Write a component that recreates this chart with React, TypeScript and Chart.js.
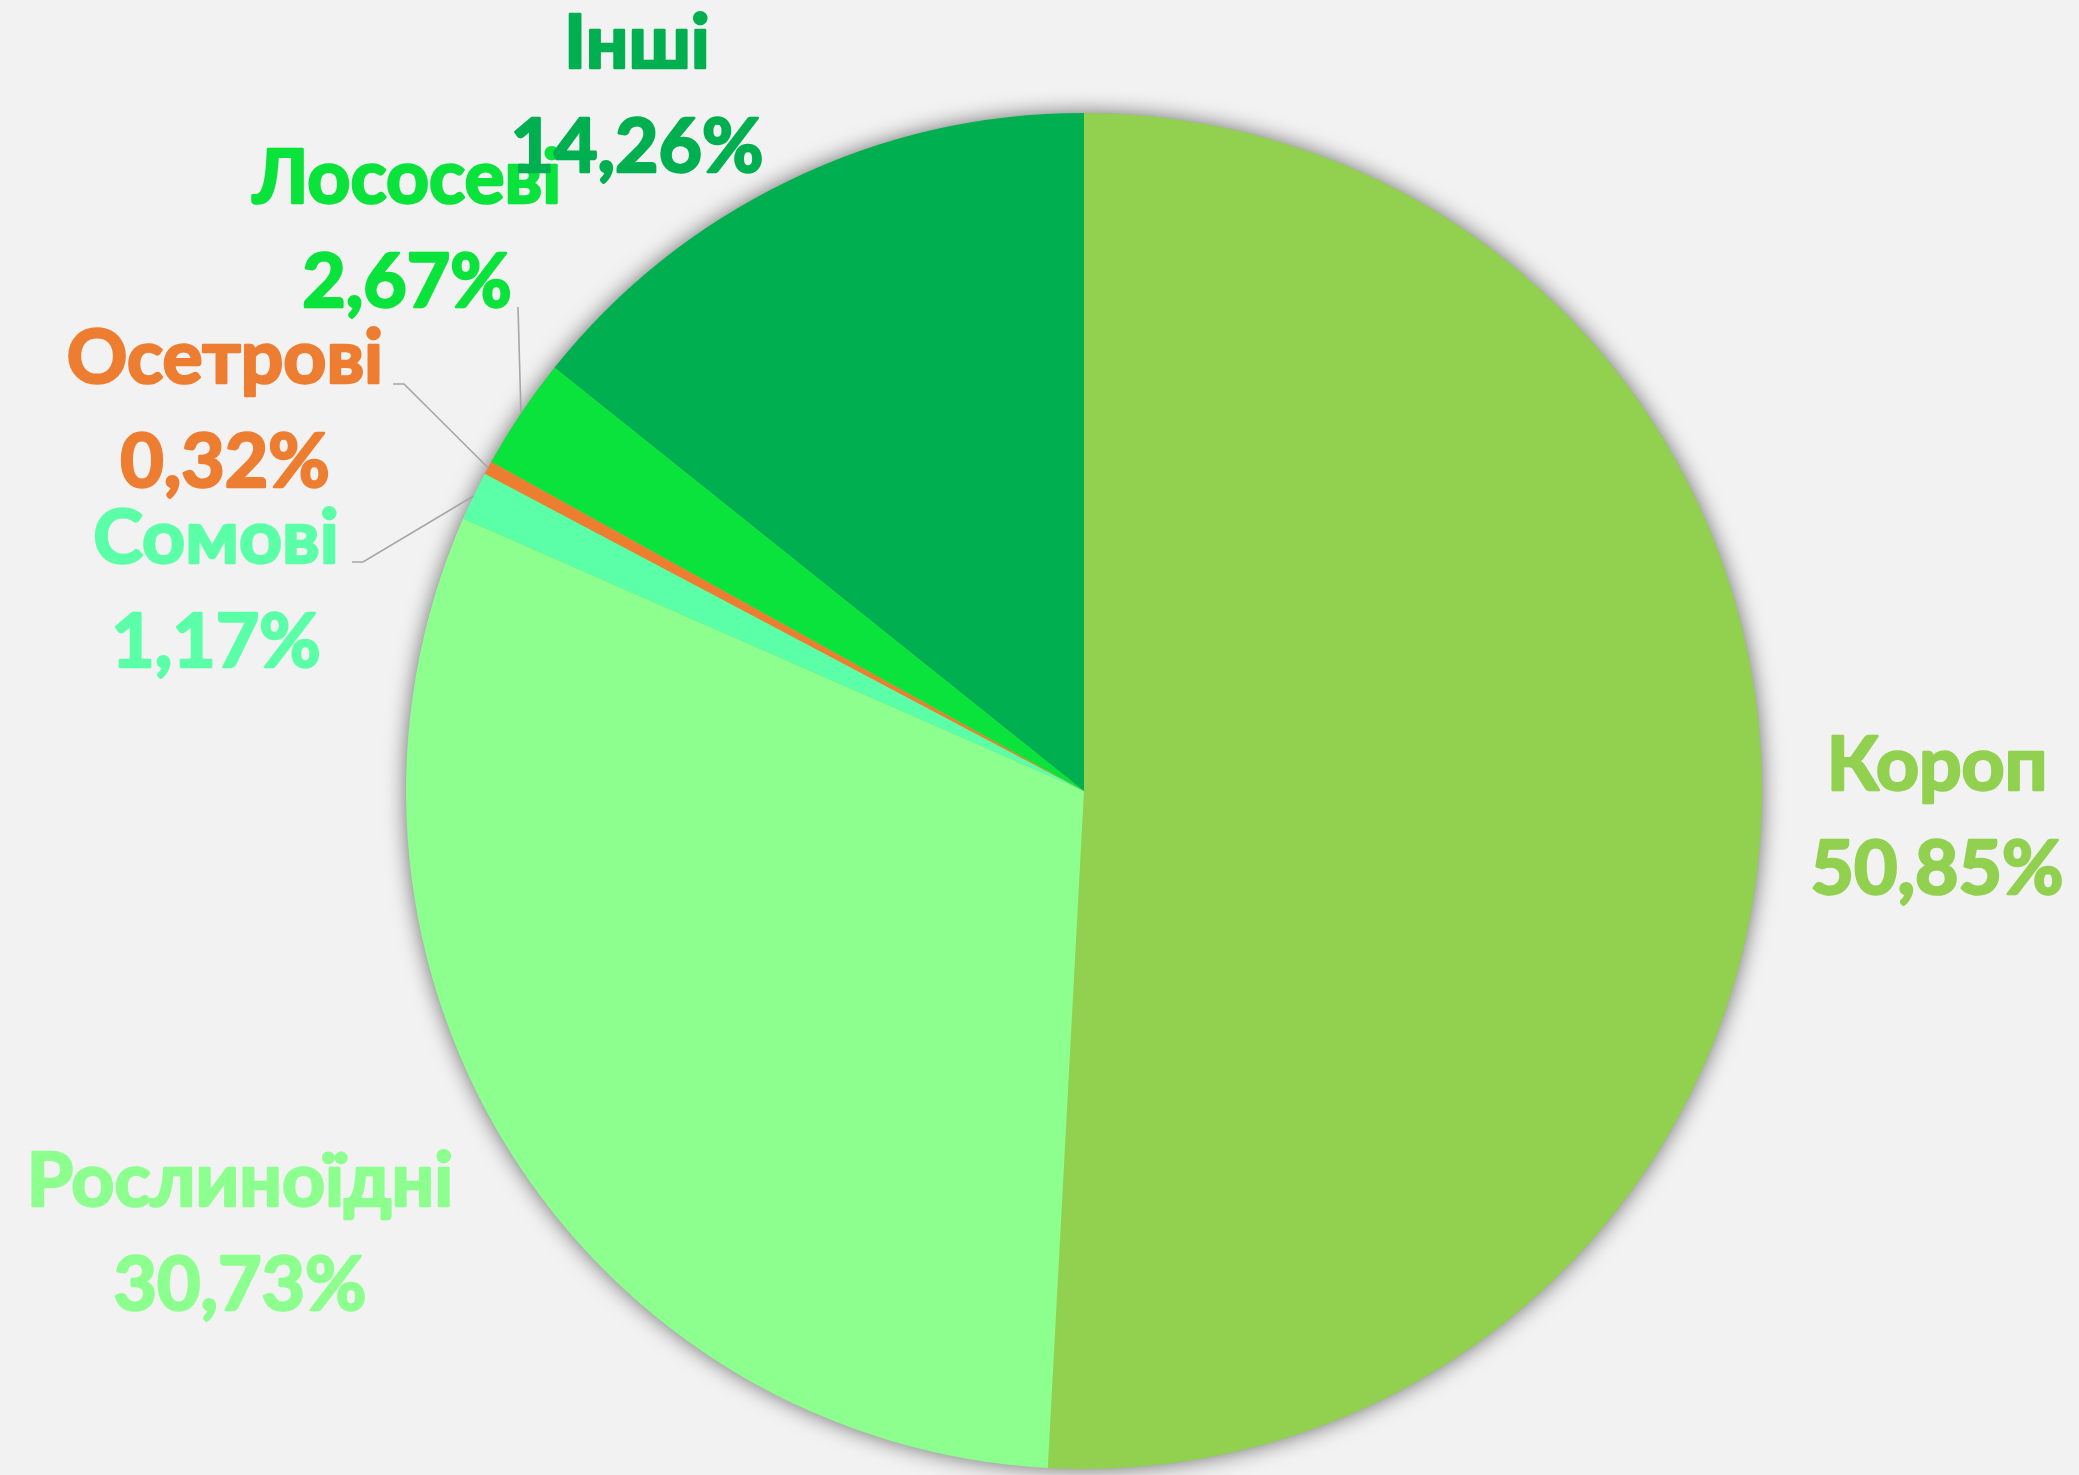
import React, { useEffect, useRef } from "react";
import { Chart, registerables } from "chart.js";

Chart.register(...registerables);

// ---- data ----
const categories = ["Короп", "Рослиноїдні", "Сомові", "Осетрові", "Лососеві", "Інші"];
const shares = [50.85, 30.73, 1.17, 0.32, 2.67, 14.26];
const colors = ["#92D050", "#8CFF8F", "#5BFFA8", "#ED7D31", "#0AE33B", "#00B050"];

// ---- layout (label anchor relative to pie centre: centre-x of text, baseline of first line) ----
const labelLayout = [
  { dx: 853, dy: -1 },
  { dx: -844, dy: 415 },
  { dx: -868, dy: -228 },
  { dx: -859, dy: -408 },
  { dx: -677, dy: -588 },
  { dx: -447, dy: -723 },
];
// leader line start (relative to centre) and optional elbow x
const leaderLayout: (null | { sx: number; sy: number; ex?: number })[] = [
  null,
  null,
  { sx: -732, sy: -229, ex: -721 },
  { sx: -691, sy: -407, ex: -680 },
  { sx: -566, sy: -484 },
  null,
];

const W = 2079;
const H = 1475;
const FONT = "bold 75px Lato";
const LINE_GAP = 104;

const fmt = (v: number) => v.toFixed(2).replace(".", ",") + "%";

const decorPlugin = {
  id: "decor",
  beforeDraw(chart: any) {
    const ctx = chart.ctx;
    ctx.save();
    ctx.fillStyle = "#F2F2F2";
    ctx.fillRect(0, 0, chart.width, chart.height);
    ctx.restore();
  },
  beforeDatasetsDraw(chart: any) {
    const meta = chart.getDatasetMeta(0);
    const el = meta.data[0];
    if (!el) return;
    const p = el.getProps(["x", "y", "outerRadius"], true);
    const ctx = chart.ctx;
    ctx.save();
    ctx.shadowColor = "rgba(0,0,0,0.6)";
    ctx.shadowBlur = 22;
    ctx.shadowOffsetX = 0;
    ctx.shadowOffsetY = 0;
    ctx.fillStyle = "#92D050";
    ctx.beginPath();
    ctx.arc(p.x, p.y, p.outerRadius - 1, 0, Math.PI * 2);
    ctx.fill();
    ctx.restore();
  },
  afterDatasetsDraw(chart: any) {
    const meta = chart.getDatasetMeta(0);
    const ctx = chart.ctx;
    ctx.save();
    // leader lines
    meta.data.forEach((el: any, i: number) => {
      const ld = leaderLayout[i];
      if (!ld) return;
      const p = el.getProps(["x", "y", "startAngle", "endAngle", "outerRadius"], true);
      const mid = (p.startAngle + p.endAngle) / 2;
      const tx = p.x + Math.cos(mid) * p.outerRadius;
      const ty = p.y + Math.sin(mid) * p.outerRadius;
      ctx.strokeStyle = "#A6A6A6";
      ctx.lineWidth = 1.6;
      ctx.beginPath();
      ctx.moveTo(p.x + ld.sx, p.y + ld.sy);
      if (ld.ex !== undefined) ctx.lineTo(p.x + ld.ex, p.y + ld.sy);
      ctx.lineTo(tx, ty);
      ctx.stroke();
    });
    // labels
    ctx.font = FONT;
    ctx.textAlign = "center";
    ctx.textBaseline = "alphabetic";
    ctx.lineJoin = "round";
    ctx.lineWidth = 2.6;
    meta.data.forEach((el: any, i: number) => {
      const p = el.getProps(["x", "y"], true);
      const L = labelLayout[i];
      const x = p.x + L.dx;
      const y = p.y + L.dy;
      ctx.fillStyle = colors[i];
      ctx.strokeStyle = colors[i];
      ctx.fillText(categories[i], x, y);
      ctx.strokeText(categories[i], x, y);
      ctx.fillText(fmt(shares[i]), x, y + LINE_GAP);
      ctx.strokeText(fmt(shares[i]), x, y + LINE_GAP);
    });
    ctx.restore();
  },
};

export default function App() {
  const ref = useRef<HTMLCanvasElement | null>(null);
  useEffect(() => {
    document.body.style.margin = "0";
    document.body.style.background = "#F2F2F2";
    const canvas = ref.current;
    if (!canvas) return;
    const chart = new Chart(canvas, {
      type: "pie",
      data: {
        labels: categories,
        datasets: [
          {
            data: shares,
            backgroundColor: colors,
            borderWidth: 0,
          },
        ],
      },
      options: {
        responsive: false,
        animation: false,
        devicePixelRatio: 1,
        layout: { padding: { top: 113, bottom: 6, left: 406, right: 317 } },
        plugins: {
          legend: { display: false },
          tooltip: { enabled: false },
        },
      },
      plugins: [decorPlugin],
    });
    return () => chart.destroy();
  }, []);
  return (
    <div style={{ position: "absolute", left: 0, top: 0, width: W, height: H }}>
      <canvas ref={ref} width={W} height={H} style={{ width: W, height: H, display: "block" }} />
    </div>
  );
}
